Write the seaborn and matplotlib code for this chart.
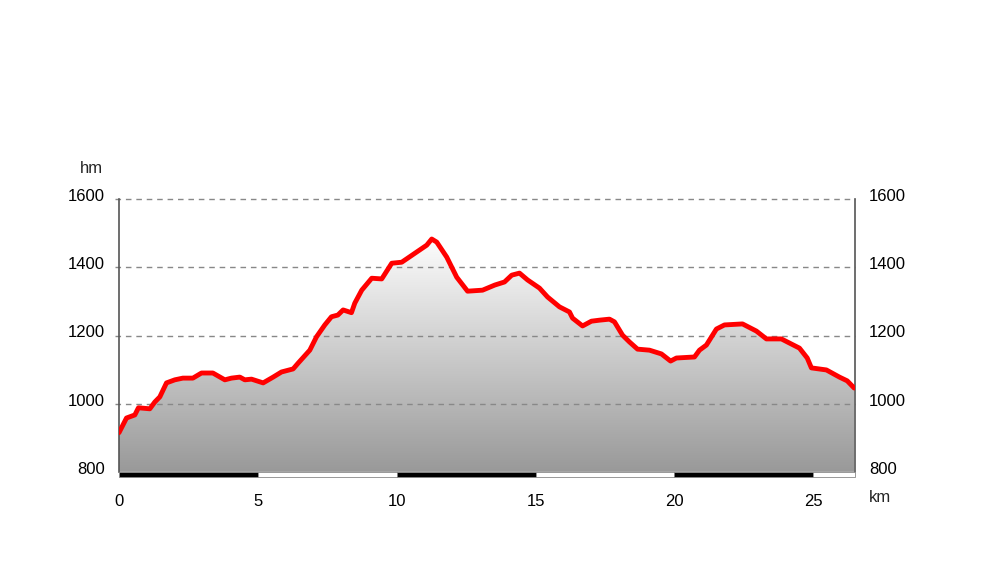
import matplotlib.pyplot as plt
import matplotlib.colors as mcolors
import matplotlib.transforms as mtransforms
from matplotlib.patches import Rectangle
import seaborn as sns
import pandas as pd
import numpy as np

# elevation profile (km, metres)
dist_km = [0.0, 0.27, 0.57, 0.7, 1.11, 1.29, 1.47, 1.71, 2.01, 2.30, 2.66,
           2.97, 3.38, 3.81, 4.05, 4.35, 4.53, 4.77, 5.19, 5.55, 5.85, 6.27,
           6.45, 6.87, 7.11, 7.41, 7.65, 7.88, 8.07, 8.37, 8.49, 8.74, 9.10,
           9.46, 9.82, 10.18, 10.72, 11.08, 11.26, 11.44, 11.80, 12.16, 12.55,
           13.09, 13.53, 13.88, 14.14, 14.42, 14.71, 15.14, 15.43, 15.86,
           16.22, 16.33, 16.69, 17.01, 17.30, 17.66, 17.84, 18.13, 18.38,
           18.67, 19.10, 19.53, 19.86, 20.07, 20.72, 20.90, 21.15, 21.51,
           21.80, 22.45, 22.95, 23.31, 23.85, 24.21, 24.50, 24.78, 24.93,
           25.47, 25.94, 26.22, 26.47]
elev_m = [915, 958, 967, 988, 985, 1005, 1020, 1061, 1070, 1075, 1075, 1090,
          1090, 1070, 1075, 1078, 1070, 1072, 1061, 1078, 1093, 1102, 1119,
          1157, 1196, 1231, 1255, 1260, 1275, 1267, 1295, 1333, 1368, 1366,
          1412, 1415, 1445, 1465, 1483, 1474, 1430, 1371, 1330, 1333, 1348,
          1357, 1377, 1383, 1363, 1339, 1313, 1284, 1269, 1251, 1228, 1242,
          1245, 1248, 1240, 1201, 1181, 1160, 1157, 1146, 1125, 1134, 1137,
          1157, 1172, 1219, 1231, 1234, 1213, 1190, 1190, 1175, 1163, 1134,
          1105, 1099, 1078, 1067, 1046]

y_ticks = [800, 1000, 1200, 1400, 1600]
x_ticks = [0, 5, 10, 15, 20, 25]

df = pd.DataFrame({"km": dist_km, "elev": elev_m})

sns.set_theme(style="white")
plt.rcParams['font.family'] = ['Liberation Sans', 'DejaVu Sans']

fig = plt.figure(figsize=(10, 5.84), dpi=100)
ax = fig.add_axes([0.119, 0.192, 0.736, 0.467])
x_max = 26.5
ax.set_xlim(0, x_max)
ax.set_ylim(800, 1600)

# grey gradient fill clipped to the profile
poly = ax.fill_between(df["km"], 800, df["elev"], color="none", lw=0)
cmap = mcolors.LinearSegmentedColormap.from_list("g", ["#999999", "#ffffff"])
grad = np.linspace(0, 1, 256).reshape(-1, 1)
img = ax.imshow(grad, extent=[0, x_max, 800, 1500], origin="lower", cmap=cmap,
                aspect="auto", zorder=1)
img.set_clip_path(poly.get_paths()[0], transform=ax.transData)

# dashed gridlines, poking out a little on the left like ticks
for y in y_ticks[1:]:
    ax.plot([-0.15, x_max], [y, y], color="#888888", ls=(0, (4, 3.5)), lw=1,
            zorder=2, clip_on=False)

sns.lineplot(data=df, x="km", y="elev", ax=ax, color="#ff0000", lw=3.5,
             zorder=3, solid_joinstyle="round", solid_capstyle="round")

# km scale bar under the axis
bar_h = 15
for i, x0 in enumerate(range(0, 30, 5)):
    w = min(5, x_max - x0)
    ax.add_patch(Rectangle((x0, 800 - bar_h), w, bar_h,
                           facecolor="black" if i % 2 == 0 else "white",
                           edgecolor="#888888", lw=0.6, clip_on=False, zorder=4))

for side in ["top", "bottom"]:
    ax.spines[side].set_visible(False)
for side in ["left", "right"]:
    ax.spines[side].set_color("#555555")
    ax.spines[side].set_linewidth(1.2)

ax.set_yticks(y_ticks)
ax.set_xticks(x_ticks)
ax.tick_params(axis="y", left=False, right=False, labelleft=True,
               labelright=True, labelsize=12, pad=4, colors="black")
ax.tick_params(axis="x", bottom=False, labelsize=12, pad=10, colors="black")
ax.set_xlabel("")
ax.set_ylabel("")
ax.grid(False)

# y labels sit a little above their gridlines
up = mtransforms.ScaledTranslation(0, 3 / 72, fig.dpi_scale_trans)
for t in ax.yaxis.get_major_ticks():
    t.label1.set_transform(t.label1.get_transform() + up)
    t.label2.set_transform(t.label2.get_transform() + up)

ax.text(-0.037, 1.113, "hm", transform=ax.transAxes, ha="center", va="center",
        fontsize=12)
ax.text(1.034, -0.095, "km", transform=ax.transAxes, ha="center", va="center",
        fontsize=12)

plt.savefig("out.png", dpi=100)
